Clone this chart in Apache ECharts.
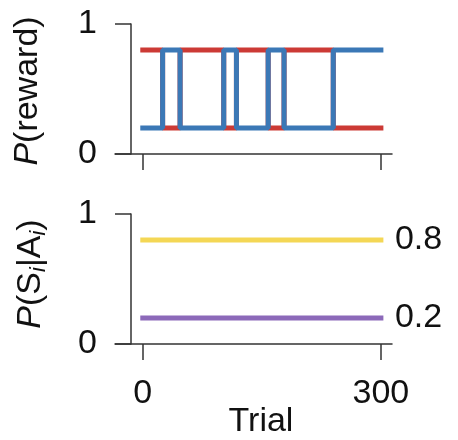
<!DOCTYPE html>
<html>
<head>
<meta charset="utf-8">
<script src="https://cdn.jsdelivr.net/npm/echarts@6/dist/echarts.min.js"></script>
<style>
  html, body { margin: 0; padding: 0; background: #fff; }
  #main { width: 458px; height: 440px; }
</style>
</head>
<body>
<div id="main"></div>
<script>
// reward probabilities, changing at these trials
var switchTrials = [0, 25, 47, 102, 118, 158, 178, 240, 300];
var redReward = [0.8, 0.2, 0.8, 0.2, 0.8, 0.2, 0.8, 0.2, 0.2];
var blueReward = [0.2, 0.8, 0.2, 0.8, 0.2, 0.8, 0.2, 0.8, 0.8];

// bottom panel: P(S_i|A_i), constant over trials
var trialRange = [0, 300];
var yellowVals = [0.8, 0.8];
var purpleVals = [0.2, 0.2];

var xTicks = [0, 300];
var yTicks = [0, 1];

var FONT = 'Liberation Sans';
var FS = 34;
var axisColor = '#333';

function pairs(xs, ys) {
  var out = [];
  for (var i = 0; i < xs.length; i++) {
    out.push([xs[i], ys[i]]);
  }
  return out;
}

function makeX(idx, showLabel) {
  return {
    type: 'value',
    gridIndex: idx,
    min: -35,
    max: 314,
    axisLine: { onZero: false, lineStyle: { color: axisColor, width: 1.5 } },
    axisTick: { customValues: xTicks, length: 16, lineStyle: { color: axisColor, width: 1.5 } },
    axisLabel: {
      show: showLabel,
      customValues: xTicks,
      margin: 33,
      fontSize: FS,
      fontFamily: FONT,
      color: '#111'
    },
    splitLine: { show: false }
  };
}

function makeY(idx) {
  return {
    type: 'value',
    gridIndex: idx,
    min: yTicks[0],
    max: yTicks[1],
    interval: 1,
    offset: -16,
    axisLine: { show: true, onZero: false, lineStyle: { color: axisColor, width: 1.5 } },
    axisTick: { show: true, length: 16, lineStyle: { color: axisColor, width: 1.5 } },
    axisLabel: { margin: 34, fontSize: FS, fontFamily: FONT, color: '#111' },
    splitLine: { show: false }
  };
}

function lineSeries(idx, data, color, step, endLabel) {
  var s = {
    type: 'line',
    xAxisIndex: idx,
    yAxisIndex: idx,
    data: data,
    symbol: 'none',
    lineStyle: { color: color, width: 5, cap: 'square' },
    silent: true
  };
  if (step) s.step = 'end';
  if (endLabel) {
    s.endLabel = {
      show: true,
      distance: 14,
      fontSize: FS,
      fontFamily: FONT,
      color: '#111',
      formatter: function (p) { return String(p.value[1]); }
    };
  }
  return s;
}

var chart = echarts.init(document.getElementById('main'));

var option = {
  animation: false,
  backgroundColor: '#fff',
  grid: [
    { left: 115, top: 24, width: 277, height: 130 },
    { left: 115, top: 214, width: 277, height: 130 }
  ],
  xAxis: [makeX(0, false), makeX(1, true)],
  yAxis: [makeY(0), makeY(1)],
  series: [
    lineSeries(0, pairs(switchTrials, redReward), '#cc3a35', true, false),
    lineSeries(0, pairs(switchTrials, blueReward), '#3b78b6', true, false),
    lineSeries(1, pairs(trialRange, yellowVals), '#f4d755', false, true),
    lineSeries(1, pairs(trialRange, purpleVals), '#8c69b9', false, true)
  ],
  graphic: [
    {
      type: 'text',
      x: 11,
      y: 91,
      rotation: Math.PI / 2,
      style: {
        text: '{it|P}(reward)',
        fontSize: FS,
        fontFamily: FONT,
        fill: '#111',
        align: 'center',
        verticalAlign: 'top',
        rich: { it: { fontStyle: 'italic', fontSize: FS, fontFamily: FONT } }
      }
    },
    {
      type: 'text',
      x: 11,
      y: 274,
      rotation: Math.PI / 2,
      style: {
        text: '{it|P}(S{sub|i}|A{sub|i})',
        fontSize: FS,
        fontFamily: FONT,
        fill: '#111',
        align: 'center',
        verticalAlign: 'top',
        rich: {
          it: { fontStyle: 'italic', fontSize: FS, fontFamily: FONT },
          sub: { fontStyle: 'italic', fontSize: 22, fontFamily: FONT, padding: [17, 0, 0, 0] }
        }
      }
    },
    {
      type: 'text',
      x: 261,
      y: 422,
      style: {
        text: 'Trial',
        fontSize: FS,
        fontFamily: FONT,
        fill: '#111',
        align: 'center',
        verticalAlign: 'middle'
      }
    }
  ]
};

chart.setOption(option);
</script>
</body>
</html>
